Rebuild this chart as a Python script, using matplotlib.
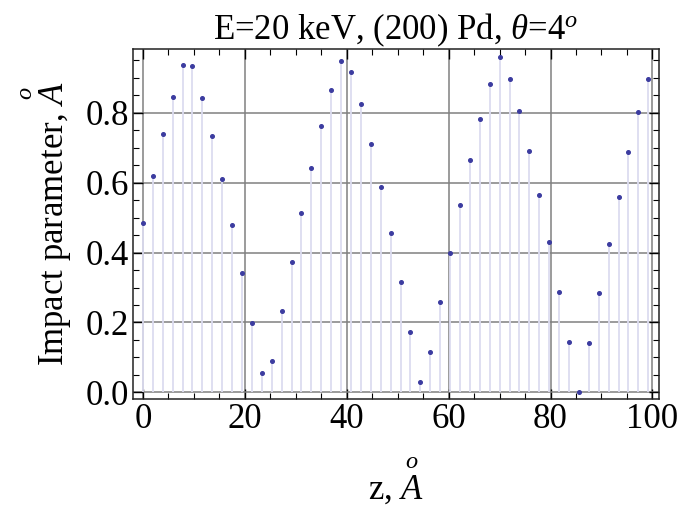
import numpy as np
import matplotlib
matplotlib.use("Agg")
import matplotlib.pyplot as plt
from matplotlib.ticker import MultipleLocator, FormatStrFormatter

plt.rcParams['font.family'] = ['Liberation Serif', 'DejaVu Serif']
plt.rcParams['mathtext.fontset'] = 'custom'
plt.rcParams['mathtext.rm'] = 'Liberation Serif'
plt.rcParams['mathtext.it'] = 'Liberation Serif:italic'

# interplanar spacing index and z positions (Angstrom)
step = 1.945
n_points = 52
z = step * np.arange(n_points)

impact = [0.486, 0.619, 0.739, 0.846, 0.936, 0.933, 0.842, 0.735, 0.612, 0.479,
          0.341, 0.198, 0.055, 0.089, 0.232, 0.373, 0.512, 0.642, 0.762, 0.865,
          0.949, 0.916, 0.826, 0.712, 0.588, 0.456, 0.316, 0.172, 0.029, 0.115,
          0.258, 0.399, 0.535, 0.666, 0.782, 0.882, 0.961, 0.898, 0.806, 0.692,
          0.566, 0.429, 0.288, 0.145, 0.002, 0.141, 0.284, 0.425, 0.559, 0.688,
          0.802, 0.898]

title = r"E=20 keV, (200) Pd, $\theta$=4$^o$"
xlabel = r"z, $\overset{o}{A}$"
ylabel = r"Impact parameter, $\overset{o}{A}$"

fs = 25

fig = plt.figure(figsize=(6.89, 5.08), dpi=100)
ax = fig.add_axes([0.193, 0.2146, 0.7635, 0.689])

ax.vlines(z, 0, impact, color='#dcdcf0', linewidth=1.3, zorder=2)
ax.plot(z, impact, 'o', color='#3c3ca0', markersize=2.6, zorder=3)

ax.set_xlim(-1.95, 101.3)
ax.set_ylim(-0.019, 0.983)
ax.xaxis.set_major_locator(MultipleLocator(20))
ax.xaxis.set_minor_locator(MultipleLocator(5))
ax.yaxis.set_major_locator(MultipleLocator(0.2))
ax.yaxis.set_minor_locator(MultipleLocator(0.05))
ax.yaxis.set_major_formatter(FormatStrFormatter('%.1f'))

ax.grid(True, which='major', color='#808080', linewidth=1.1, zorder=1)
ax.set_axisbelow(True)
ax.tick_params(which='both', direction='in', top=True, right=True, labelsize=fs, colors='black')
ax.tick_params(which='major', length=7, width=1, pad=3)
ax.tick_params(which='minor', length=4, width=0.8)
for s in ax.spines.values():
    s.set_linewidth(1.1)
    s.set_color('#222222')

ax.set_title(title, fontsize=fs, pad=6)
ax.set_xlabel(xlabel, fontsize=fs, labelpad=14)
ax.set_ylabel(ylabel, fontsize=fs, labelpad=8)

fig.savefig('out.png', dpi=100)
